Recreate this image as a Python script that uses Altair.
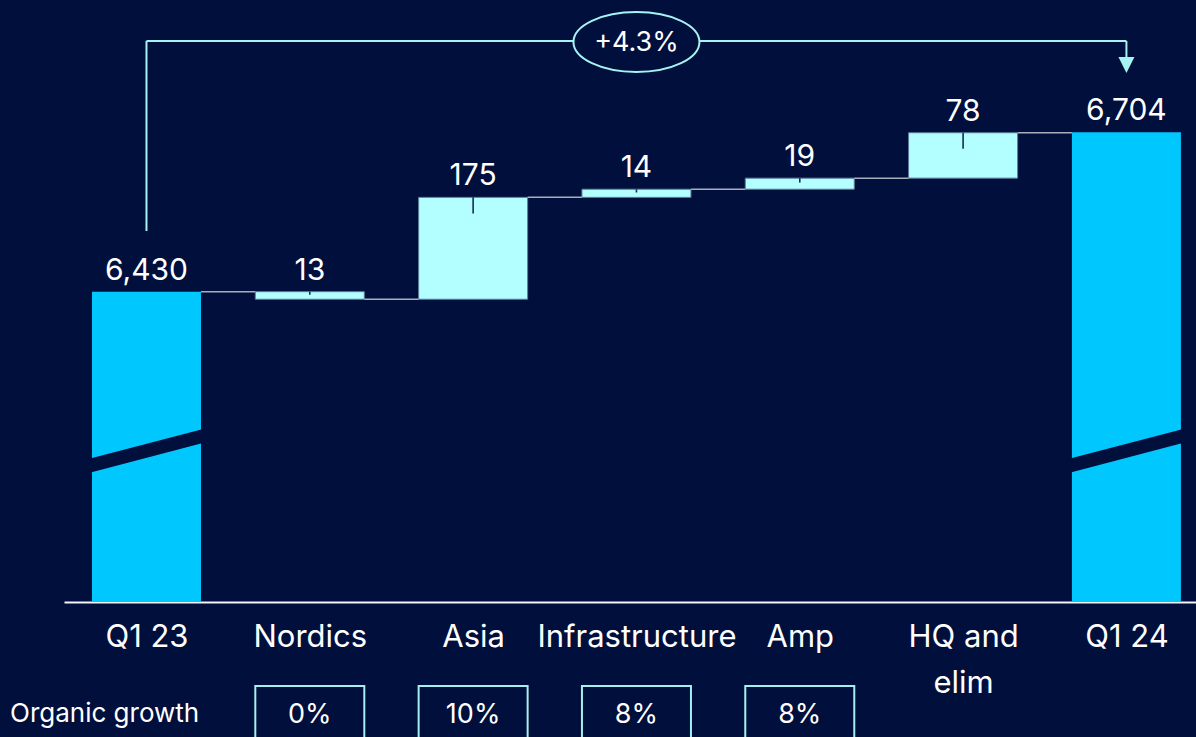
import json
import altair as alt
import pandas as pd

# ---------------- data ----------------
categories = ["Q1 23", "Nordics", "Asia", "Infrastructure", "Amp", "HQ and elim", "Q1 24"]
tick_labels = ["Q1 23", "Nordics", "Asia", "Infrastructure", "Amp", ["HQ and", "elim"], "Q1 24"]
changes = [6430, -13, 175, 14, 19, 78, 6704]          # first/last are totals
value_labels = ["6,430", "13", "175", "14", "19", "78", "6,704"]
kinds = ["total", "delta", "delta", "delta", "delta", "delta", "total"]
growth_categories = ["Nordics", "Asia", "Infrastructure", "Amp"]
growth_labels = ["0%", "10%", "8%", "8%"]
growth_title = "Organic growth"
total_change_label = "+4.3%"

# ---------------- style ----------------
BG = "#000f3c"
TOTAL_C = "#00c8ff"
DELTA_C = "#b3ffff"
LINE_C = "#a6f3f3"
FONT = "Inter"
Y_MIN, Y_MAX = 5897, 6931
HALF = 0.3337

# ---------------- derived table ----------------
rows = []
level = None
for i, (c, v, lab, k) in enumerate(zip(categories, changes, value_labels, kinds)):
    if k == "total":
        start, end = Y_MIN, v
    else:
        start, end = level, level + v
    level = end
    top = max(start, end)
    rows.append(dict(cat=c, idx=i, x0=i - HALF, x1=i + HALF, start=start, end=end,
                     top=top, label=lab, kind=k,
                     tick_end=top - min(27.6, 0.4 * abs(end - start))))
df = pd.DataFrame(rows)

conn = pd.DataFrame([
    dict(xa=rows[i]["x1"], xb=rows[i + 1]["x0"], lvl=rows[i]["end"])
    for i in range(len(rows) - 1)
])

# break marks on the truncated total bars
brk = []
for r in rows:
    if r["kind"] == "total":
        brk.append(dict(bar=r["cat"], bx=r["idx"] - HALF - 0.03, by=6130.0))
        brk.append(dict(bar=r["cat"], bx=r["idx"] + HALF + 0.03, by=6183.5))
brk = pd.DataFrame(brk)

growth = pd.DataFrame([
    dict(cat=c, idx=categories.index(c), x0=categories.index(c) - HALF,
         x1=categories.index(c) + HALF, g=g)
    for c, g in zip(growth_categories, growth_labels)
])

bracket = pd.DataFrame([dict(xs=0, xe=len(categories) - 1, xm=(len(categories) - 1) / 2,
                             lab=total_change_label)])

xscale = alt.Scale(domain=[-0.505, 6.426], nice=False, zero=False)
yscale = alt.Scale(domain=[Y_MIN, Y_MAX], nice=False, zero=False)

X = lambda f: alt.X(f, type="quantitative", scale=xscale, axis=None)
Y = lambda f: alt.Y(f, type="quantitative", scale=yscale, axis=None)

base = alt.Chart(df)

axis_layer = alt.Chart(pd.DataFrame({"idx": list(range(len(categories)))})).mark_point(opacity=0).encode(
    x=alt.X("idx:Q", scale=xscale,
            axis=alt.Axis(values=list(range(len(categories))),
                          labelExpr=json.dumps(tick_labels) + "[datum.value]",
                          title=None, grid=False, ticks=False,
                          domainColor="#f2f4f8", domainWidth=2,
                          labelColor="#ffffff", labelFont=FONT, labelFontSize=31,
                          labelPadding=20, labelLineHeight=46, labelFlush=False,
                          labelOverlap=False, labelLimit=500)),
    y=alt.Y("idx:Q", scale=yscale, axis=None),
)

total_bars = base.transform_filter(alt.datum.kind == "total").mark_rect(color=TOTAL_C).encode(
    x=X("x0"), x2="x1", y=Y("start"), y2="end")
delta_bars = base.transform_filter(alt.datum.kind == "delta").mark_rect(
    color=DELTA_C, stroke="#5f7d98", strokeWidth=1).encode(
    x=X("x0"), x2="x1", y=Y("start"), y2="end")

breaks = alt.Chart(brk).mark_line(color=BG, strokeWidth=13.5, strokeCap="butt").encode(
    x=X("bx"), y=Y("by"), detail="bar:N")

connectors = alt.Chart(conn).mark_rule(color="#a9aebb", strokeWidth=1.5).encode(
    x=X("xa"), x2="xb", y=Y("lvl"))

ticks = base.transform_filter(alt.datum.kind == "delta").mark_rule(color="#1b2b50", strokeWidth=1.6).encode(
    x=X("idx"), y=Y("top"), y2="tick_end")

labels = base.mark_text(color="#ffffff", font=FONT, fontSize=30, baseline="alphabetic", dy=-12).encode(
    x=X("idx"), y=Y("top"), text="label:N")

bchart = alt.Chart(bracket)
br_left = bchart.mark_rule(color=LINE_C, strokeWidth=2).encode(
    x=X("xs"), y=alt.value(231), y2=alt.value(41))
br_top = bchart.mark_rule(color=LINE_C, strokeWidth=2).encode(
    x=X("xs"), x2="xe", y=alt.value(41))
br_right = bchart.mark_rule(color=LINE_C, strokeWidth=2).encode(
    x=X("xe"), y=alt.value(41), y2=alt.value(58))
br_arrow = bchart.mark_point(shape="M-1,-1L1,-1L0,1Z", filled=True, color=LINE_C, opacity=1,
                             size=256, strokeWidth=0).encode(
    x=X("xe"), y=alt.value(65))
br_ellipse = bchart.mark_point(shape="M-1,0A1,0.476,0,1,1,1,0A1,0.476,0,1,1,-1,0Z",
                               filled=True, fill=BG, stroke=LINE_C, strokeWidth=2,
                               size=126 * 126, opacity=1, fillOpacity=1).encode(
    x=X("xm"), y=alt.value(42))
br_text = bchart.mark_text(color="#ffffff", font=FONT, fontSize=27, baseline="middle").encode(
    x=X("xm"), y=alt.value(43), text="lab:N")

gchart = alt.Chart(growth)
g_boxes = gchart.mark_rect(fill=BG, stroke="#a6eef0", strokeWidth=2).encode(
    x=X("x0"), x2="x1", y=alt.value(686), y2=alt.value(760))
g_text = gchart.mark_text(color="#ffffff", font=FONT, fontSize=27, baseline="middle").encode(
    x=X("idx"), y=alt.value(715), text="g:N")
g_title = alt.Chart(pd.DataFrame({"t": [growth_title]})).mark_text(
    color="#ffffff", font=FONT, fontSize=26, baseline="middle", align="left").encode(
    x=alt.value(-54), y=alt.value(714), text="t:N")

chart = alt.layer(
    axis_layer, total_bars, breaks, delta_bars, connectors, ticks, labels,
    br_left, br_top, br_right, br_arrow, br_ellipse, br_text,
    g_boxes, g_text, g_title,
).resolve_axis(x="independent", y="independent").properties(
    width=1132, height=602,
    padding={"left": 64, "top": 0, "right": 0, "bottom": 135},
    autosize=alt.AutoSizeParams(type="none"),
    background=BG,
).configure_view(stroke=None, clip=False)

chart.save("out.html", embed_options={"renderer": "svg", "actions": False})
